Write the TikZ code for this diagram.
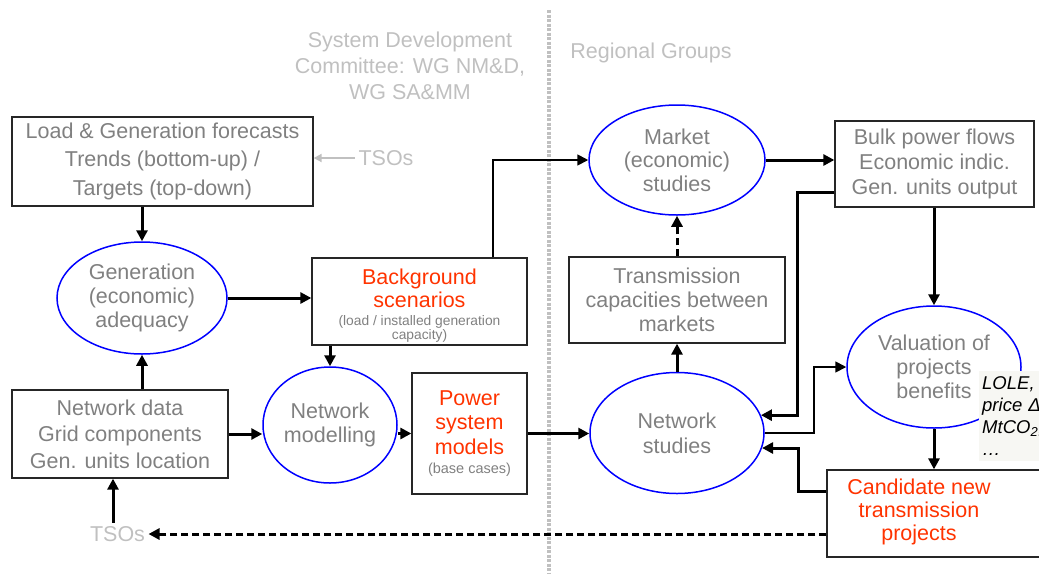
\documentclass[tikz,border=0pt]{standalone}
\usepackage{fontspec}
\setmainfont{Liberation Sans}
\usetikzlibrary{arrows.meta,shapes.geometric}
\definecolor{tgray}{HTML}{808080}
\definecolor{lgray}{HTML}{C0C0C0}
\definecolor{hred}{HTML}{FF3300}
\definecolor{eblue}{HTML}{0000FF}
\definecolor{lolebg}{HTML}{F7F7F3}
\begin{document}
\begin{tikzpicture}[x=1pt,y=-1pt,
  box/.style={draw=black!85, line width=1.3pt, rectangle, inner sep=0pt, align=center, text=tgray, font=\fontsize{21.5}{24}\selectfont},
  ell/.style={draw=eblue, line width=1.5pt, ellipse, inner sep=-30pt, align=center, text=tgray, font=\fontsize{21.5}{23.5}\selectfont},
  thk/.style={line width=3pt, -{Triangle[length=11pt,width=11pt]}},
  thn/.style={line width=1.7pt, -{Triangle[length=11pt,width=11pt]}},
  dsh/.style={line width=3pt, dash pattern=on 7pt off 4pt, -{Triangle[length=11pt,width=11pt]}},
  ttl/.style={text=lgray, align=center, font=\fontsize{21.5}{26}\selectfont},
  hl/.style={text=hred},
]
\useasboundingbox (0,0) rectangle (1039,574);
\clip (0,0) rectangle (1039,574);

% separator
\draw[lgray, line width=4pt, dash pattern=on 3pt off 1.5pt] (549,10) -- (549,574);

% titles
\node[ttl] (sdc) at (410,66) {System Development\\Committee: WG NM\&D,\\WG SA\&MM};
\node[ttl] (rg) at (651,53) {Regional Groups};

% boxes
\node[box, minimum width=301pt, minimum height=89pt, font=\fontsize{21.5}{28.5}\selectfont] (lg) at (162.5,161.5) {\raisebox{0pt}[\height][\depth]{}Load \& Generation forecasts\\Trends (bottom-up) /\\Targets (top-down)\rule[-5pt]{0pt}{0pt}};
\node[box, minimum width=215pt, minimum height=87pt, font=\fontsize{21.5}{23}\selectfont] (bg) at (419.5,301.5) {\rule{0pt}{24pt}\textcolor{hred}{Background}\\\textcolor{hred}{scenarios}\\[-5pt]{\fontsize{13.8}{14}\selectfont (load / installed generation}\\[-9pt]{\fontsize{13.8}{14}\selectfont capacity)}};
\node[box, minimum width=199pt, minimum height=86pt, font=\fontsize{21.5}{25}\selectfont] (bulk) at (934.5,164) {Bulk power flows\\Economic indic.\\Gen. units output};
\node[box, minimum width=216pt, minimum height=86pt, font=\fontsize{21.5}{24}\selectfont] (trans) at (677,300) {Transmission\\capacities between\\markets};
\node[box, minimum width=216pt, minimum height=88pt, font=\fontsize{21.5}{26.5}\selectfont] (nd) at (120,434) {Network data\\Grid components\\Gen. units location};
\node[box, minimum width=115pt, minimum height=121pt, font=\fontsize{21.5}{24.5}\selectfont] (psm) at (469.5,433.5) {\textcolor{hred}{Power}\\\textcolor{hred}{system}\\\textcolor{hred}{models}\\[-5pt]{\fontsize{14.5}{14}\selectfont (base cases)}};
\node[box, minimum width=218pt, minimum height=87pt] (cand) at (936,513.5) {};
\node[hl, align=center, font=\fontsize{21.5}{23}\selectfont] (candt) at (919,512) {Candidate new\\transmission\\projects};

% ellipses
\node[ell, minimum width=170pt, minimum height=112pt, font=\fontsize{21.5}{24}\selectfont] (gen) at (142,298) {Generation\\(economic)\\adequacy};
\node[ell, minimum width=176pt, minimum height=110pt] (market) at (677,160) {Market\\(economic)\\studies};
\node[ell, minimum width=134pt, minimum height=116pt, font=\fontsize{21.5}{24}\selectfont] (nm) at (330,425) {Network\\modelling};
\node[ell, minimum width=174pt, minimum height=121pt, font=\fontsize{21.5}{25}\selectfont] (ns) at (677,433) {Network\\studies};
\node[ell, minimum width=174pt, minimum height=122pt, font=\fontsize{21.5}{24}\selectfont] (val) at (934,367) {Valuation of\\projects\\benefits};

% LOLE note
\node[fill=lolebg, anchor=north west, inner sep=3pt, align=left, text width=100pt, minimum height=90pt, font=\itshape\fontsize{18.5}{22}\selectfont] (lole) at (979,371) {LOLE,\\price Δ,\\MtCO\textsubscript{2},\\…};

% TSOs
\node[text=lgray, font=\fontsize{21.5}{24}\selectfont] (tsot) at (386,158) {TSOs};
\node[text=lgray, font=\fontsize{21.5}{24}\selectfont] (tsob) at (117.5,534) {TSOs};

% connectors
\coordinate (k1) at (797,192);
\coordinate (k2) at (814,0);
\coordinate (k3) at (798,0);

\draw[lgray, line width=1.8pt, -{Triangle[length=8pt,width=8pt]}] (tsot.west) -- (tsot.west -| lg.east);
\draw[thk] (gen.north |- lg.south) -- (gen.north);
\draw[thk] (gen.south |- nd.north) -- (gen.south);
\draw[thk] (gen.east) -- (gen.east -| bg.west);
\draw[thn] ([xshift=73.5pt]bg.north) |- (market.west);
\draw[thk] (market.east) -- (market.east -| bulk.west);
\draw[dsh] (trans.north) -- (market.south);
\draw[thk] (ns.north) -- (trans.south);
\draw[thk] (nd.east) -- (nm.west |- nd.east);
\draw[thk] (nm.north |- bg.south) -- (nm.north);
\draw[thk] (psm.west -| nm.east) -- (psm.west);
\draw[thk] (psm.east) -- (psm.east -| ns.west);
\draw[thk] (k1 -| bulk.west) -- (k1) |- (ns.12);
\draw[thn] (ns.east) -- (ns.east -| k2) |- (val.west);
\draw[thk] (val.north |- bulk.south) -- (val.north);
\draw[thk] (val.south) -- (val.south |- cand.north);
\draw[thk] ([yshift=22.5pt]cand.west) -| (k3 |- ns.-10) -- (ns.-10);
\draw[dsh] (cand.west |- tsob.east) -- (tsob.east);
\draw[thk] ([xshift=-4.5pt]tsob.north) -- ([xshift=-4.5pt]tsob.north |- nd.south);
\end{tikzpicture}
\end{document}
